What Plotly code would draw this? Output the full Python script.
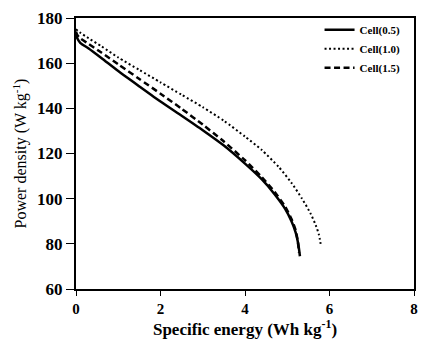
import plotly.graph_objects as go

# Cell(0.5) - solid
e05 = [0.0, 0.03, 0.1, 0.3, 0.6, 1.0, 1.5, 2.0, 2.5, 3.0, 3.5, 4.0, 4.4, 4.7, 4.95, 5.1, 5.2, 5.26, 5.3]
p05 = [173.0, 171.0, 169.0, 166.5, 162.3, 156.5, 149.7, 143.0, 136.7, 130.3, 123.5, 115.5, 108.5, 102.0, 95.5, 90.0, 85.0, 80.0, 74.5]

# Cell(1.0) - dotted
e10 = [0.0, 0.1, 0.3, 0.6, 1.0, 1.5, 2.0, 2.5, 3.0, 3.5, 4.0, 4.4, 4.8, 5.1, 5.35, 5.55, 5.68, 5.75, 5.79]
p10 = [175.0, 173.5, 171.0, 167.5, 162.5, 157.0, 151.5, 146.0, 140.5, 134.5, 127.5, 121.5, 114.0, 107.0, 100.0, 93.5, 88.0, 84.0, 80.0]

# Cell(1.5) - dashed
e15 = [0.0, 0.03, 0.1, 0.3, 0.6, 1.0, 1.5, 2.0, 2.5, 3.0, 3.5, 4.0, 4.4, 4.7, 4.95, 5.1, 5.2, 5.25, 5.28]
p15 = [174.0, 172.5, 171.0, 168.5, 164.7, 159.5, 153.0, 146.5, 139.8, 132.8, 125.3, 117.0, 109.5, 103.0, 96.5, 91.0, 86.0, 81.0, 76.0]

x_ticks = [0, 2, 4, 6, 8]
y_ticks = [60, 80, 100, 120, 140, 160, 180]

serif = "Liberation Serif, Times New Roman, serif"

fig = go.Figure()
fig.add_trace(go.Scatter(x=e05, y=p05, mode="lines", name="Cell(0.5)",
                         line=dict(color="black", width=2.5, dash="solid", shape="spline", smoothing=0.6)))
fig.add_trace(go.Scatter(x=e10, y=p10, mode="lines", name="Cell(1.0)",
                         line=dict(color="black", width=2, dash="2px,2.5px", shape="spline", smoothing=0.6)))
fig.add_trace(go.Scatter(x=e15, y=p15, mode="lines", name="Cell(1.5)",
                         line=dict(color="black", width=2.5, dash="6px,3.5px", shape="spline", smoothing=0.6)))

fig.update_layout(
    width=422, height=339,
    margin=dict(l=76, r=4, t=18, b=46),
    paper_bgcolor="white", plot_bgcolor="white",
    font=dict(family=serif, color="black"),
    showlegend=True,
    legend=dict(x=0.975, y=1.01, xanchor="right", yanchor="top",
                bgcolor="rgba(0,0,0,0)", borderwidth=0,
                font=dict(family=serif, size=11, color="black", weight="bold"),
                tracegroupgap=0, itemwidth=30),
)
fig.update_xaxes(
    range=[0, 8], tickvals=x_ticks, ticktext=[str(v) for v in x_ticks],
    showgrid=False, zeroline=False,
    showline=True, linecolor="black", linewidth=2, mirror=True,
    ticks="outside", ticklen=5, tickwidth=1, tickcolor="black",
    tickfont=dict(family=serif, size=15, color="black", weight="bold"),
    title=dict(text="Specific energy (Wh kg<sup>-1</sup>)", standoff=6,
               font=dict(family=serif, size=17, color="black", weight="bold")),
)
fig.update_yaxes(
    range=[60, 180], tickvals=y_ticks, ticktext=[str(v) for v in y_ticks],
    showgrid=False, zeroline=False,
    showline=True, linecolor="black", linewidth=2, mirror=True,
    ticks="outside", ticklen=8, tickwidth=1, tickcolor="black",
    tickfont=dict(family=serif, size=17, color="black", weight="bold"),
    title=dict(text="Power density (W kg<sup>-1</sup>)", standoff=6,
               font=dict(family=serif, size=16, color="black")),
)

fig.write_html("out.html")
